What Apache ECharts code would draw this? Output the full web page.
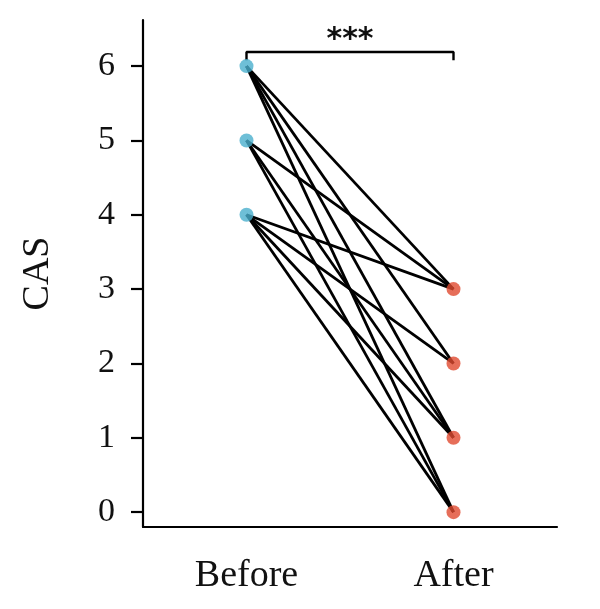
<!DOCTYPE html>
<html><head><meta charset="utf-8">
<script src="https://cdn.jsdelivr.net/npm/echarts@6/dist/echarts.min.js"></script>
<style>html,body{margin:0;padding:0;background:#fff}#c{width:600px;height:609px}</style>
</head><body><div id="c"></div>
<script>
var categories = ['Before', 'After'];
var yTicks = [0, 1, 2, 3, 4, 5, 6];
var beforeVals = [6, 6, 6, 6, 5, 5, 5, 4, 4, 4, 4];
var afterVals  = [3, 2, 1, 0, 3, 1, 0, 3, 2, 1, 0];
var beforeLevels = [6, 5, 4];
var afterLevels = [3, 2, 1, 0];
var sigText = '***';

var FONT = 'Liberation Serif';
var chart = echarts.init(document.getElementById('c'));
var series = [];
for (var i = 0; i < beforeVals.length; i++) {
  series.push({
    type: 'line', silent: true, symbol: 'none', z: 2, animation: false,
    lineStyle: {color: '#000', width: 2.8},
    data: [[categories[0], beforeVals[i]], [categories[1], afterVals[i]]]
  });
}
series.push({
  type: 'scatter', z: 5, symbolSize: 14, animation: false,
  itemStyle: {color: '#4aafcd'},
  data: beforeLevels.map(function (v) { return [categories[0], v]; })
});
series.push({
  type: 'scatter', z: 5, symbolSize: 14, animation: false,
  itemStyle: {color: '#e04a2f'},
  data: afterLevels.map(function (v) { return [categories[1], v]; })
});
// significance bracket
series.push({
  type: 'line', symbol: 'none', z: 1, animation: false,
  lineStyle: {color: '#000', width: 2.4},
  data: [[categories[0], 6.08], [categories[0], 6.19], [categories[1], 6.19], [categories[1], 6.08]]
});

chart.setOption({
  animation: false,
  grid: {left: 143, right: 43, top: 20, bottom: 82},
  xAxis: {
    type: 'category', data: categories, boundaryGap: true,
    axisLine: {onZero: false, lineStyle: {color: '#000', width: 2.2}},
    axisTick: {alignWithLabel: true, length: 11, lineStyle: {color: '#000', width: 2.2}},
    axisLabel: {color: '#111', fontFamily: FONT, fontSize: 38, margin: 30}
  },
  yAxis: {
    type: 'value', min: -0.2, max: 6.62,
    name: 'CAS', nameLocation: 'middle', nameGap: 86,
    nameTextStyle: {color: '#111', fontFamily: FONT, fontSize: 38},
    splitLine: {show: false},
    axisLine: {show: true, lineStyle: {color: '#000', width: 2.2}},
    axisTick: {show: true, length: 12, customValues: yTicks, lineStyle: {color: '#000', width: 2.2}},
    axisLabel: {color: '#111', fontFamily: FONT, fontSize: 34, margin: 28, customValues: yTicks}
  },
  series: series
});
var p0 = chart.convertToPixel({gridIndex: 0}, [categories[0], 6.19]);
var p1 = chart.convertToPixel({gridIndex: 0}, [categories[1], 6.19]);
chart.setOption({graphic: [{
  type: 'text', x: (p0[0] + p1[0]) / 2, y: p0[1] - 12,
  style: {text: sigText, fontFamily: 'DejaVu Sans', fontWeight: 'bold', fontSize: 30, fill: '#111', align: 'center', verticalAlign: 'middle'}
}]});
</script></body></html>
